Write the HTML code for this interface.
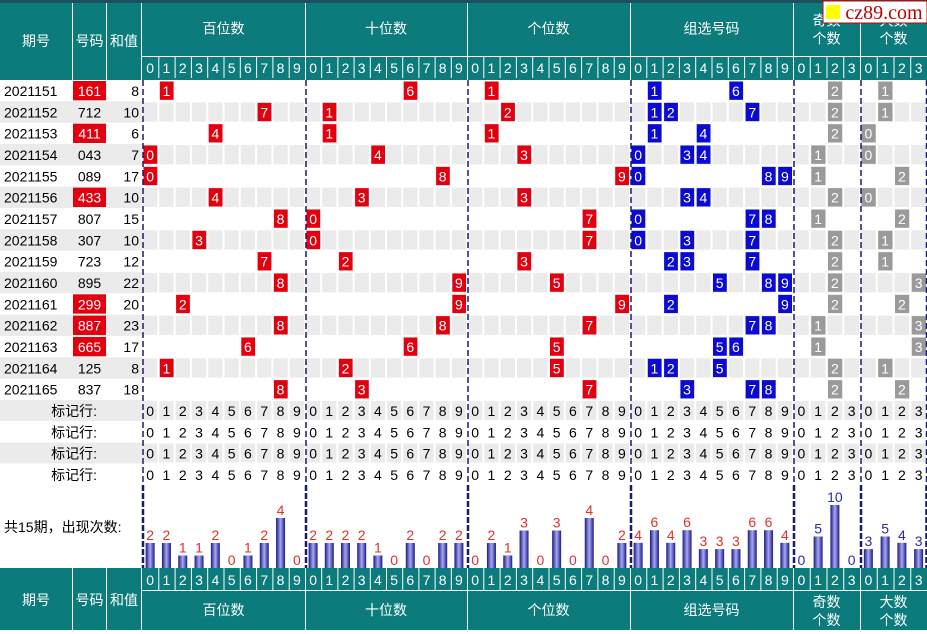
<!DOCTYPE html>
<html><head><meta charset="utf-8">
<style>
html,body{margin:0;padding:0;background:#fff;}
svg{display:block;font-family:"Liberation Sans","Noto Sans CJK SC",sans-serif;}
</style></head>
<body>
<svg id="chart" width="927" height="634" viewBox="0 0 927 634" xmlns="http://www.w3.org/2000/svg">
</svg>
<script>
// ---- data ----
const periods = ['2021151','2021152','2021153','2021154','2021155','2021156','2021157','2021158','2021159','2021160','2021161','2021162','2021163','2021164','2021165'];
const draws = ['161','712','411','043','089','433','807','307','723','895','299','887','665','125','837'];
const sums = [8,10,6,7,17,10,15,10,12,22,20,23,17,8,18];
const hundredsCounts = [2,2,1,1,2,0,1,2,4,0];
const tensCounts = [2,2,2,2,1,0,2,0,2,2];
const unitsCounts = [0,2,1,3,0,3,0,4,0,2];
const groupCounts = [4,6,4,6,3,3,3,6,6,4];
const oddCounts = [0,5,10,0];
const bigCounts = [3,5,4,3];
const groupTitles = ['百位数','十位数','个位数','组选号码'];

const NS='http://www.w3.org/2000/svg';
const svg=document.getElementById('chart');
function mk(tag,attrs,parent){const e=document.createElementNS(NS,tag);for(const k in attrs)e.setAttribute(k,attrs[k]);(parent||svg).appendChild(e);return e;}
function txt(s,x,y,size,fill,anchor,parent){const t=mk('text',{x:x,y:y,'font-size':size,fill:fill,'text-anchor':anchor||'middle'},parent);t.textContent=s;return t;}

const TEAL='#0b7b7b';
const gStart=[142,305,467,630,793,860];
const gEnd=[305,467,630,793,860,927];
const gN=[10,10,10,10,4,4];
function colW(g){return (gEnd[g]-gStart[g])/gN[g];}
function colX(g,i){return gStart[g]+i*colW(g);}
const ROW0=80, RH=21.33;
function rowY(r){return ROW0+r*RH;}

// top line
let e=mk('rect',{x:0,y:0,width:927,height:3,fill:'#1d4f5c'});



// header builder
function header(yTop,digitY,titleY,titleH,bottom){
  const grp=mk('g',{});
  
  
  mk('rect',{x:0,y:yTop,width:927,height:(bottom?630:80)-yTop,fill:TEAL},grp);
  const fixed=[['期号',0,72],['号码',73,106],['和值',107,141]];
  const cy=bottom?605:46;
  fixed.forEach(f=>{
    const t=txt(f[0],(f[1]+f[2])/2,cy,14,'#fff','middle',grp);
    
    
    mk('line',{x1:f[2]+0.5,y1:yTop,x2:f[2]+0.5,y2:bottom?630:80,stroke:'#fff','stroke-width':1},grp);
  });
  for(let g=0;g<6;g++){
    mk('line',{x1:gEnd[g]+0.5,y1:yTop,x2:gEnd[g]+0.5,y2:bottom?630:80,stroke:'#fff','stroke-width':1},grp);
    // title
    const tcy=titleY+titleH/2;
    if(g<4){
      const t=txt(groupTitles[g],(gStart[g]+gEnd[g])/2,tcy+5,14,'#fff','middle',grp);
      
      
    } else {
      const a=g==4?'奇数':'大数';
      const t1=txt(a,(gStart[g]+gEnd[g])/2,tcy-3,14,'#fff','middle',grp);
      
      
      txt('个数',(gStart[g]+gEnd[g])/2,tcy+15,14,'#fff','middle',grp);
    }
    for(let i=0;i<gN[g];i++){
      const x=colX(g,i);
      if(i>0)mk('line',{x1:x+0.5,y1:digitY,x2:x+0.5,y2:digitY+22,stroke:'#fff','stroke-width':1},grp);
      txt(String(i),x+colW(g)/2,digitY+17,14,'#fff','middle',grp);
    }
  }
  const ly=bottom?digitY+22:digitY;
  mk('line',{x1:142,y1:ly+0.5,x2:927,y2:ly+0.5,stroke:'#fff','stroke-width':1},grp);
}
header(3,56,3,51,false);
header(568,568,590,40,true);

// data rows
for(let r=0;r<periods.length;r++){
  const y=rowY(r);
  const row=mk('g',{});
  
  
  if(r%2==1){
    mk('rect',{x:0,y:y,width:142,height:RH,fill:'#ebebeb'},row);
    for(let g=0;g<6;g++)for(let i=0;i<gN[g];i++)
      mk('rect',{x:colX(g,i)+1,y:y+1,width:colW(g)-2,height:RH-2,fill:'#ebebeb'},row);
  }
  const d=draws[r].split('').map(Number);
  const isPair=new Set(d).size<3;
  txt(periods[r],4,y+16,14,'#000','start',row);
  if(isPair)mk('rect',{x:73,y:y+1,width:33,height:RH-2,fill:'#e2000f'},row);
  txt(draws[r],89.5,y+16,14,isPair?'#fff':'#000','middle',row);
  txt(String(sums[r]),139,y+16,14,'#000','end',row);
  function cell(g,v,color,name){
    const x=colX(g,v);
    const c=mk('rect',{x:x+1.5,y:y+1.5,width:colW(g)-2.5,height:RH-3,fill:color},row);
    
    
    txt(String(v),x+colW(g)/2,y+16,14,'#fff','middle',row);
  }
  for(let p=0;p<3;p++)cell(p,d[p],'#e2000f','digit-cell');
  [...new Set(d)].forEach(v=>cell(3,v,'#0a0ad2','group-cell'));
  cell(4,d.filter(v=>v%2==1).length,'#9a9a9a','odd-count-cell');
  cell(5,d.filter(v=>v>=5).length,'#9a9a9a','big-count-cell');
}

// mark rows
for(let m=0;m<4;m++){
  const y=400+m*21.25;
  const row=mk('g',{});
  
  
  if(m%2==0){
    mk('rect',{x:0,y:y,width:142,height:21,fill:'#ebebeb'},row);
    for(let g=0;g<6;g++)for(let i=0;i<gN[g];i++)
      mk('rect',{x:colX(g,i)+1,y:y+1,width:colW(g)-2,height:19,fill:'#ebebeb'},row);
  }
  txt('标记行:',97,y+16,14,'#000','end',row);
  for(let g=0;g<6;g++)for(let i=0;i<gN[g];i++)
    txt(String(i),colX(g,i)+colW(g)/2,y+16,14,'#000','middle',row);
}

// separators
for(let g=0;g<6;g++){
  const xs=[gStart[g]];if(g==5)xs.push(925.5);
  xs.forEach(x=>{
    const l=mk('line',{x1:x+1,y1:80,x2:x+1,y2:485,stroke:'#1a1a6e','stroke-width':1.5,'stroke-dasharray':'6 3'});
    
    
    mk('line',{x1:x+1,y1:485,x2:x+1,y2:568,stroke:'#1a1a6e','stroke-width':2.5,'stroke-dasharray':'6 2'});
  });
}

// stats
const st=txt('共15期，出现次数:',4,532,14,'#000','start');


const defs=mk('defs',{});
const lg=mk('linearGradient',{id:'bg',x1:0,y1:0,x2:1,y2:0},defs);
mk('stop',{offset:'0','stop-color':'#1a1a80'},lg);
mk('stop',{offset:'0.5','stop-color':'#a8a8f5'},lg);
mk('stop',{offset:'1','stop-color':'#1a1a80'},lg);
const countSets=[hundredsCounts,tensCounts,unitsCounts,groupCounts,oddCounts,bigCounts];
const unitPx=[12.5,12.5,12.5,6.3,6.3,6.3];
const BASE=568;
function yScale(g,v){return BASE-v*unitPx[g];}
countSets.forEach((arr,g)=>{
  arr.forEach((v,i)=>{
    const cx=colX(g,i)+colW(g)/2;
    const top=yScale(g,v);
    if(v>0){
      const b=mk('rect',{x:cx-4.5,y:top,width:9,height:BASE-top,fill:'url(#bg)'});
      
      
    }
    const t=txt(String(v),cx,top-3,14,g>=4?'#2a2aa8':'#e03030','middle');
    
    
  });
});

// watermark
const wm=mk('g',{});


mk('rect',{x:823,y:1,width:104,height:22,fill:'#fff',stroke:'#c00000','stroke-width':1},wm);
mk('rect',{x:826,y:5,width:14,height:14,fill:'#ffff00'},wm);
const wt=txt('cz89.com',884,19,20,'#c00000','middle',wm);
wt.setAttribute('font-family','"Liberation Serif",serif');
</script>
</body></html>
